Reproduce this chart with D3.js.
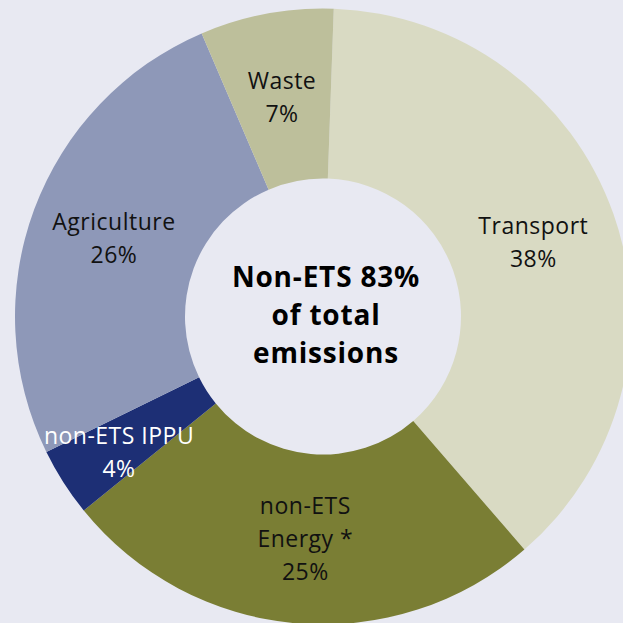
<!DOCTYPE html>
<html>
<head>
<meta charset="utf-8">
<script src="https://cdn.jsdelivr.net/npm/d3@7"></script>
<style>
  html, body { margin: 0; padding: 0; background: #e8e9f2; }
  svg { display: block; }
</style>
</head>
<body>
<div id="chart"></div>
<script>
// slices, clockwise from just right of 12 o'clock
var categories = ["Transport", "non-ETS Energy *", "non-ETS IPPU", "Agriculture", "Waste"];
var labelLines = [["Transport"], ["non-ETS", "Energy *"], ["non-ETS IPPU"], ["Agriculture"], ["Waste"]];
var values = [38.1, 25.5, 3.6, 25.8, 7.0];
var pctLabels = ["38%", "25%", "4%", "26%", "7%"];
var centerLines = ["Non-ETS 83%", "of total", "emissions"];

var colors = ["#d9dac3", "#7a7e34", "#1d2f75", "#8e98b8", "#bdbf9b"];
var textColors = ["#111", "#111", "#fff", "#111", "#111"];

var width = 623, height = 623;
var cx = 323, cy = 316.5,
    outerR = 308, innerR = 138;

var svg = d3.select("#chart")
  .append("svg")
    .attr("width", width)
    .attr("height", height)
  .append("g")
    .attr("transform", "translate(" + cx + "," + cy + ")");

var start = 2 * Math.PI / 180;
var pie = d3.pie()
  .sort(null)
  .startAngle(start)
  .endAngle(start + 2 * Math.PI)
  .value(function(d) { return d; });

var arcs = pie(values);

var arc = d3.arc()
  .innerRadius(innerR)
  .outerRadius(outerR);

svg.selectAll("path.slice")
  .data(arcs)
  .enter()
  .append("path")
    .attr("class", "slice")
    .attr("d", arc)
    .attr("fill", function(d, i) { return colors[i]; });

// data labels: centroid, IPPU nudged like the original
var nudge = [[0, 0], [2, 0], [-16, 16], [0, 0], [0, 0]];
var lineH = 33;

var labels = svg.selectAll("text.lbl")
  .data(arcs)
  .enter()
  .append("text")
    .attr("class", "lbl")
    .attr("text-anchor", "middle")
    .style("font-family", "'Open Sans', sans-serif")
    .style("font-size", "23px")
    .style("letter-spacing", "0.5px")
    .attr("fill", function(d, i) { return textColors[i]; });

labels.each(function(d, i) {
  var c = arc.centroid(d);
  var lines = labelLines[i].concat([pctLabels[i]]);
  var n = lines.length;
  var t = d3.select(this);
  lines.forEach(function(s, j) {
    t.append("tspan")
      .attr("x", c[0] + nudge[i][0])
      .attr("y", c[1] + nudge[i][1] + (j - (n - 1) / 2) * lineH + 8)
      .text(s);
  });
});

// centre text
svg.append("text")
  .attr("text-anchor", "middle")
  .style("font-family", "'Open Sans', sans-serif")
  .style("font-size", "28px")
  .style("font-weight", "bold")
  .style("letter-spacing", "0.8px")
  .attr("fill", "#000")
  .selectAll("tspan")
  .data(centerLines)
  .enter()
  .append("tspan")
    .attr("x", 3)
    .attr("y", function(d, i) { return (i - 1) * 38 + 8; })
    .text(function(d) { return d; });
</script>
</body>
</html>
